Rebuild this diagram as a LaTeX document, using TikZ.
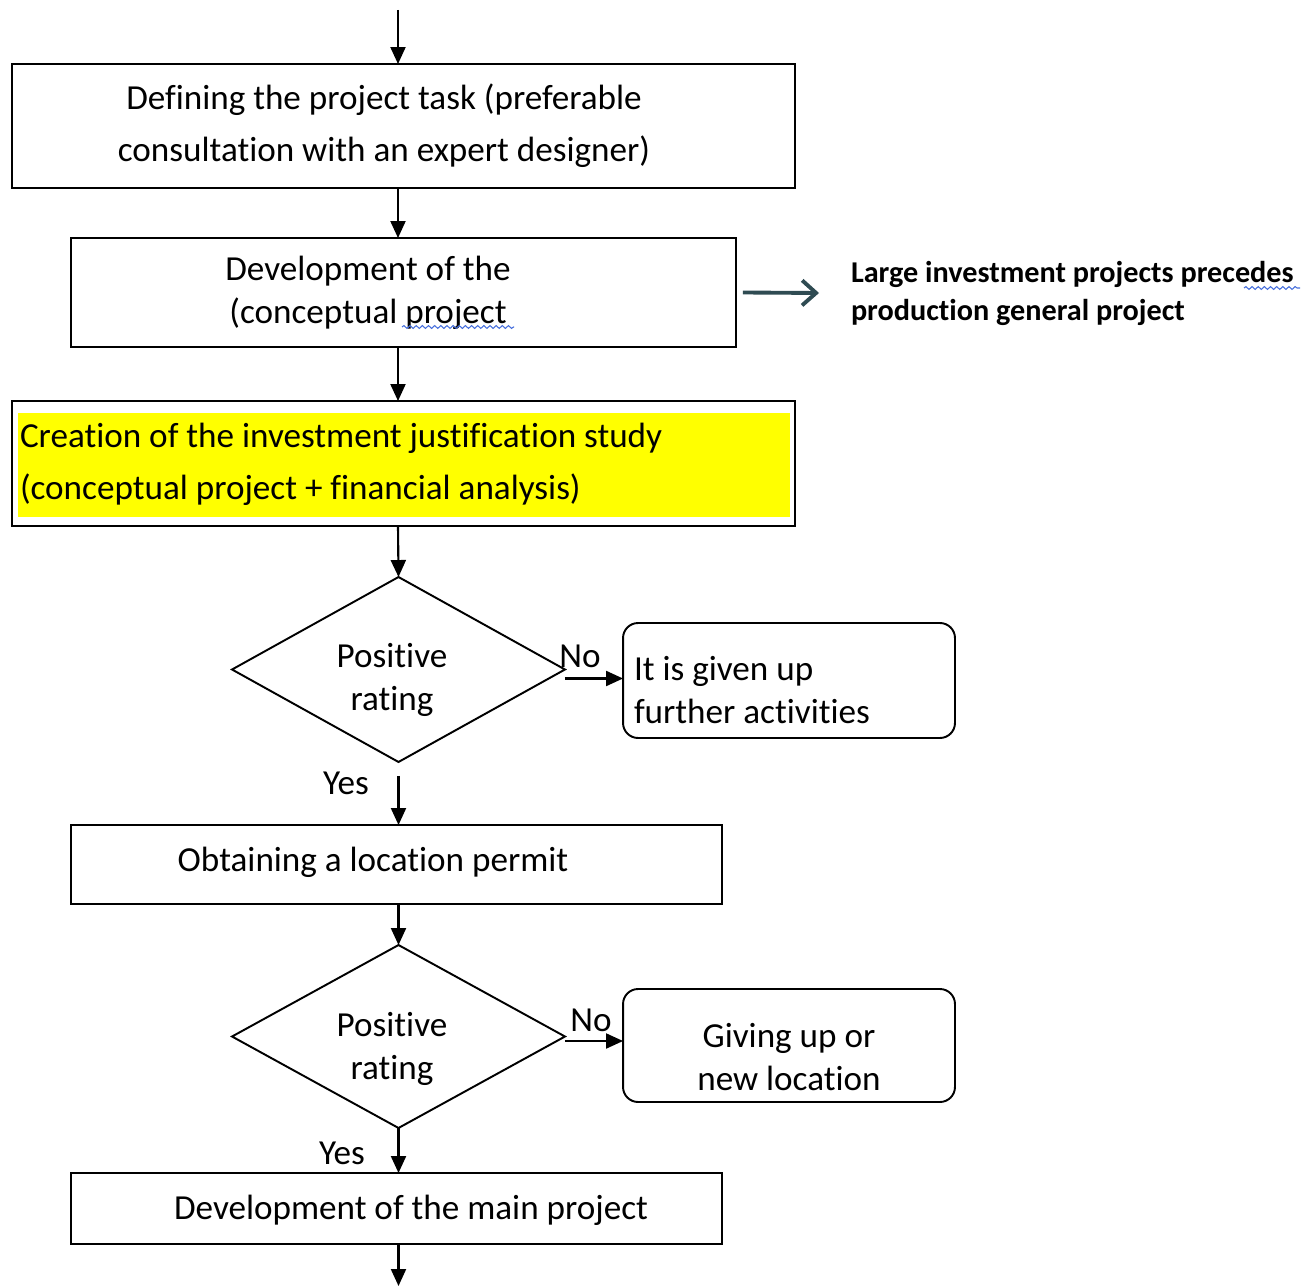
\documentclass[tikz,border=0pt]{standalone}
\usepackage{fontspec}
\setmainfont{Carlito}[Ligatures=NoCommon]
\usetikzlibrary{arrows.meta,shapes.geometric,decorations.pathmorphing}
\definecolor{hl}{RGB}{255,255,0}
\definecolor{slate}{RGB}{47,75,82}
\definecolor{spell}{RGB}{70,110,220}
\begin{document}
\begin{tikzpicture}[x=0.02cm,y=-0.02cm,
  every node/.style={inner sep=0pt,outer sep=0pt},
  stepbox/.style={draw,line width=1.1pt,rectangle},
  roundbox/.style={draw,line width=1.1pt,rectangle,rounded corners=0.3cm},
  decision/.style={draw,line width=1.1pt,diamond,aspect=1.8},
  txt/.style={font=\fontsize{20pt}{29.5pt}\selectfont,align=center},
  txtn/.style={font=\fontsize{20pt}{24.5pt}\selectfont,align=center},
  lbl/.style={font=\fontsize{20pt}{24pt}\selectfont},
  note/.style={font=\fontsize{17.2pt}{21.6pt}\selectfont\bfseries,align=left},
  arr/.style={line width=1.2pt,-{Triangle[length=0.34cm,width=0.3cm]}},
  sidearr/.style={draw=slate,line width=2.2pt,-{Straight Barb[length=0.28cm,width=0.5cm]}},
  squiggle/.style={draw=spell,line width=0.6pt,decorate,decoration={snake,amplitude=0.8pt,segment length=3.5pt}}]
\useasboundingbox (0,0) rectangle (1314,1287);

% column of the main flow
\coordinate (axis) at (398,0);
\coordinate (start) at (398,10);
\coordinate (finish) at (398,1286);

% process boxes
\node[stepbox,minimum width=15.66cm,minimum height=2.48cm] (b1) at (403.5,126) {};
\node[txt] (t1) at (384,126) {Defining the project task (preferable\\ consultation with an expert designer)};

\node[stepbox,minimum width=13.3cm,minimum height=2.18cm] (b2) at (403.5,292.5) {};
\node[txtn] (t2) at (368,293) {Development of the\\(conceptual project };

\node[stepbox,minimum width=15.66cm,minimum height=2.5cm] (b3) at (403.5,463.5) {};
\fill[hl] (18,413) rectangle (790,517);
\node[txt,align=left,anchor=west] (t3) at (20,464) {Creation of the investment justification study\\(conceptual project + financial analysis)};

% first decision
\node[decision,minimum width=6.66cm,minimum height=3.7cm] (d1) at (398.5,669.5) {};
\node[txtn] (t4) at (392,680) {Positive\\rating};
\node[roundbox,minimum width=6.64cm,minimum height=2.3cm] (r1) at (789,680.5) {};
\node[txtn,align=left,anchor=west] (t5) at (634,690) {It is given up\\further activities};

\node[stepbox,minimum width=13.02cm,minimum height=1.58cm] (b4) at (396.5,864.5) {};
\node[txt] (t6) at (373,862) {Obtaining a location permit};

% second decision
\node[decision,minimum width=6.66cm,minimum height=3.66cm] (d2) at (398.5,1036.5) {};
\node[txtn] (t7) at (392,1049) {Positive\\rating};
\node[roundbox,minimum width=6.64cm,minimum height=2.26cm] (r2) at (789,1045.5) {};
\node[txtn] (t8) at (789,1057) {Giving up or\\ new location};

\node[stepbox,minimum width=13.02cm,minimum height=1.42cm] (b5) at (396.5,1208.5) {};
\node[txt] (t9) at (411,1210) {Development of the main project};

% side remark
\node[note,anchor=west] (n1) at (851,293) {Large investment projects precedes\\production general project};

% branch labels
\node[lbl] (no1) at (580,656) {No};
\node[lbl] (yes1) at (346,783) {Yes};
\node[lbl] (no2) at (591,1020) {No};
\node[lbl] (yes2) at (342,1153) {Yes};

% connectors
\draw[arr] (start) -- (b1.north -| axis);
\draw[arr] (b1.south -| axis) -- (b2.north -| axis);
\draw[arr] (b2.south -| axis) -- (b3.north -| axis);
\draw[arr] (b3.south -| axis) -- (d1.north);
\draw[arr] ([yshift=-0.18cm]d1.east) -- ([yshift=-0.18cm]d1.east -| r1.west);
\draw[arr] ([yshift=-0.28cm]d1.south) -- (b4.north -| d1.south);
\draw[arr] (b4.south -| d2.north) -- (d2.north);
\draw[arr] ([yshift=-0.09cm]d2.east) -- ([yshift=-0.09cm]d2.east -| r2.west);
\draw[arr] (d2.south) -- (b5.north -| d2.south);
\draw[arr] (b5.south -| d2.south) -- (finish -| d2.south);
\draw[sidearr] ([xshift=0.14cm]b2.east) -- ([xshift=-0.64cm]n1.west);

% spelling marks
\draw[squiggle] (402,327) -- (514,327);
\draw[squiggle] (1244,288) -- (1300,288);
\end{tikzpicture}
\end{document}
